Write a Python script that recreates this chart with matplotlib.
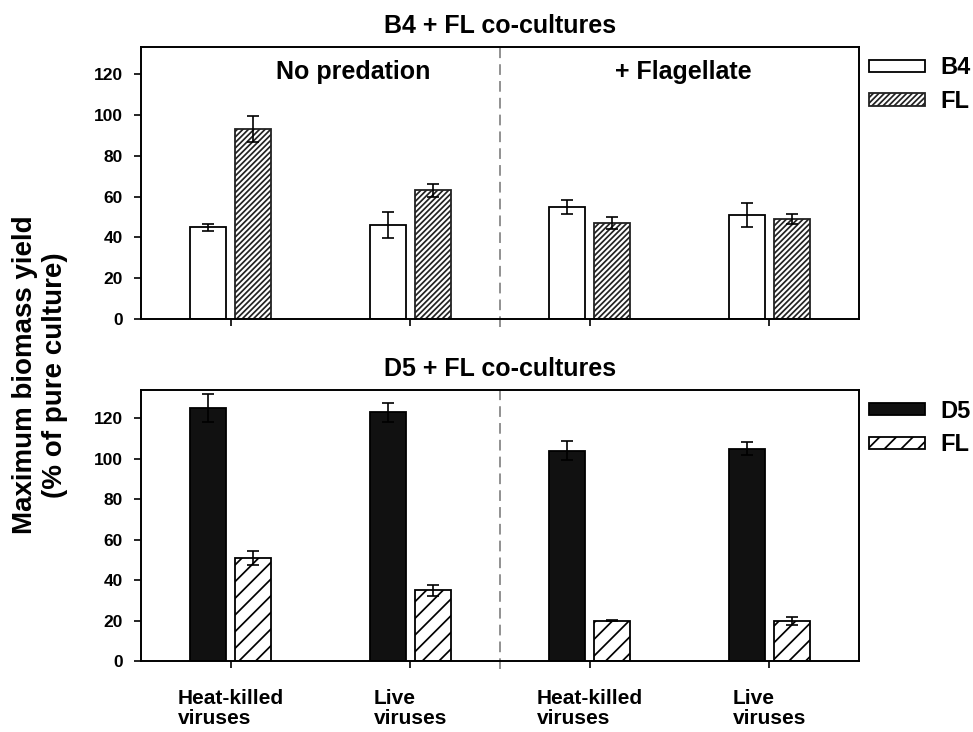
import matplotlib

matplotlib.use("Agg")
import matplotlib.pyplot as plt
import numpy as np

plt.rcParams["font.family"] = ["Liberation Sans", "DejaVu Sans"]
plt.rcParams["hatch.linewidth"] = 1.25

groups = ["Heat-killed\nviruses", "Live\nviruses", "Heat-killed\nviruses", "Live\nviruses"]

# B4 + FL co-cultures
b4 = [45, 46, 55, 51]
b4_err = [1.8, 6.3, 3.3, 6.0]
fl_top = [93, 63, 47, 49]
fl_top_err = [6.4, 3.4, 3.0, 2.5]

# D5 + FL co-cultures
d5 = [125, 123, 104, 105]
d5_err = [7.0, 4.6, 4.6, 3.2]
fl_bot = [51, 35, 20, 20]
fl_bot_err = [3.6, 2.6, 0.4, 2.0]

x = np.arange(len(groups))
w = 0.2
off = 0.125

fig = plt.figure(figsize=(9.73, 7.32), dpi=100)
ax1 = fig.add_axes([0.145, 0.564, 0.738, 0.372])
ax2 = fig.add_axes([0.145, 0.097, 0.738, 0.370])

err_kw = dict(fmt="none", ecolor="black", elinewidth=1.2, capsize=4.5, capthick=1.2)

ax1.bar(x - off, b4, w, color="white", edgecolor="black", linewidth=1.3, label="B4", zorder=2)
ax1.bar(x + off, fl_top, w, color="white", edgecolor="#222222", linewidth=1.3,
        hatch="//////", label="FL", zorder=2)
ax1.errorbar(x - off, b4, yerr=b4_err, zorder=3, **err_kw)
ax1.errorbar(x + off, fl_top, yerr=fl_top_err, zorder=3, **err_kw)

ax2.bar(x - off, d5, w, color="#111111", edgecolor="black", linewidth=1.3, label="D5", zorder=2)
ax2.bar(x + off, fl_bot, w, color="white", edgecolor="black", linewidth=1.3,
        hatch="//", label="FL", zorder=2)
ax2.errorbar(x - off, d5, yerr=d5_err, zorder=3, **err_kw)
ax2.errorbar(x + off, fl_bot, yerr=fl_bot_err, zorder=3, **err_kw)

for ax, top in ((ax1, 133.3), (ax2, 134)):
    ax.set_xlim(-0.5, 3.5)
    ax.set_ylim(0, top)
    ax.set_yticks(range(0, 121, 20))
    ax.set_xticks(x)
    for s in ax.spines.values():
        s.set_linewidth(1.4)
    ax.tick_params(direction="out", length=5, width=1.2, top=False, right=False,
                   labelsize=12.5)
    ax.tick_params(axis="y", pad=8)
    for lab in ax.get_yticklabels():
        lab.set_fontweight("bold")
    ax.axvline(1.5, ymin=-0.03, ymax=1, color="0.45", lw=1.1, ls=(0, (7, 4)),
               clip_on=False, zorder=1)
    ax.legend(loc="upper left", bbox_to_anchor=(1.0, 1.0), frameon=False,
              prop=dict(size=17, weight="bold"), handlelength=2.4,
              handleheight=0.42, labelspacing=0.45, handletextpad=0.65,
              borderaxespad=0.0, borderpad=0.4)

ax1.set_xticklabels([])
ax2.set_xticklabels(groups, fontsize=15, fontweight="bold", multialignment="left",
                    linespacing=1.05)
ax2.tick_params(axis="x", pad=15)

ax1.set_title("B4 + FL co-cultures", fontsize=18, fontweight="bold", pad=10)
ax2.set_title("D5 + FL co-cultures", fontsize=18, fontweight="bold", pad=10)

ax1.text(0.68, 121, "No predation", fontsize=18, fontweight="bold", ha="center", va="center")
ax1.text(2.52, 121, "+ Flagellate", fontsize=18, fontweight="bold", ha="center", va="center")

fig.text(0.041, 0.488, "Maximum biomass yield\n(% of pure culture)", rotation=90,
         fontsize=20, fontweight="bold", ha="center", va="center")

fig.savefig("out.png", dpi=100)
